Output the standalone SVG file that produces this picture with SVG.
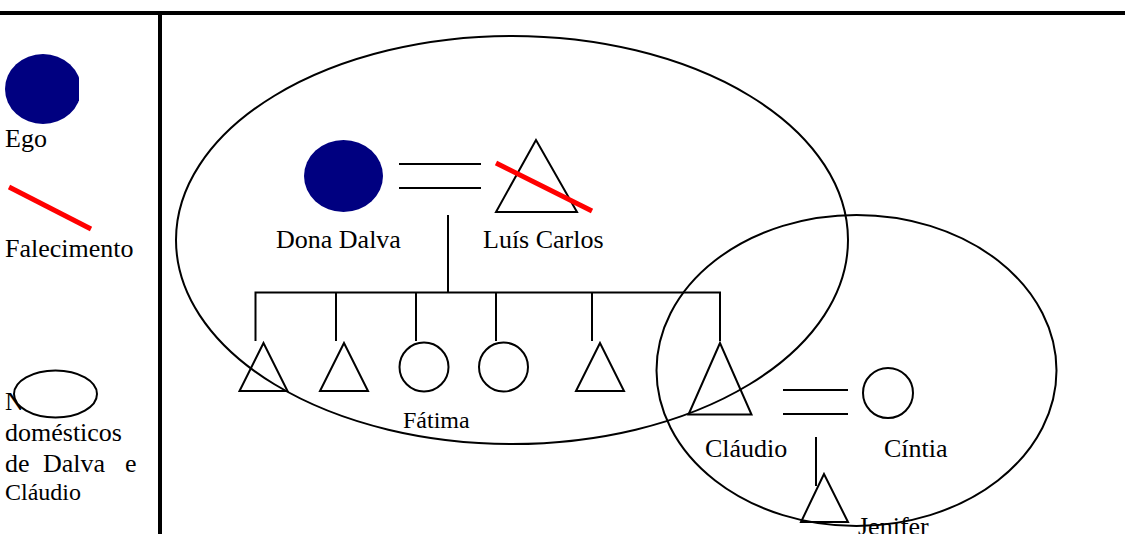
<svg xmlns="http://www.w3.org/2000/svg" width="1125" height="534" viewBox="0 0 1125 534">
<style>
.t{font-family:"Liberation Serif","Times New Roman",serif;font-size:26px;fill:#000}
.s{fill:none;stroke:#000;stroke-width:2}
.w{fill:#fff;stroke:#000;stroke-width:2}
.dead{stroke:#ff0000;stroke-width:5;fill:none}
.ego{fill:#000080}
</style>
<defs>
<clipPath id="egoclip"><rect x="0" y="40" width="79" height="84"/></clipPath>
</defs>
<rect width="1125" height="534" fill="#fff"/>
<g id="frame">
<line x1="0" y1="13" x2="1125" y2="13" stroke="#000" stroke-width="4"/>
<line x1="160" y1="11" x2="160" y2="534" stroke="#000" stroke-width="4"/>
</g>
<g id="legend">
<ellipse class="ego" cx="43" cy="89" rx="38" ry="35" clip-path="url(#egoclip)"/>
<text class="t" x="5" y="147">Ego</text>
<line class="dead" x1="9" y1="187" x2="91" y2="229"/>
<text class="t" x="5" y="257">Falecimento</text>
<text class="t" x="5" y="410">Núcleos</text>
<ellipse class="w" cx="55.5" cy="394" rx="41.5" ry="23.5"/>
<text class="t" x="5" y="441">domésticos</text>
<text class="t" y="472"><tspan x="5">de</tspan><tspan x="43">Dalva</tspan><tspan x="125">e</tspan></text>
<text class="t" x="5" y="500" style="font-size:24px">Cláudio</text>
</g>
<g id="nucleo-dalva"><ellipse class="s" cx="512" cy="240" rx="336" ry="204"/></g>
<g id="nucleo-claudio"><ellipse class="s" cx="856.5" cy="370.5" rx="200" ry="155.5"/></g>
<g id="connectors">
<line class="s" x1="399" y1="164" x2="481" y2="164"/>
<line class="s" x1="399" y1="188" x2="481" y2="188"/>
<line class="s" x1="448" y1="215" x2="448" y2="292"/>
<polyline class="s" points="255.5,341 255.5,292.5 720,292.5 720,341"/>
<line class="s" x1="336" y1="292" x2="336" y2="341"/>
<line class="s" x1="416" y1="292" x2="416" y2="341"/>
<line class="s" x1="496" y1="292" x2="496" y2="341"/>
<line class="s" x1="592" y1="292" x2="592" y2="341"/>
<line class="s" x1="783" y1="390" x2="848" y2="390"/>
<line class="s" x1="783" y1="414" x2="848" y2="414"/>
<line class="s" x1="816" y1="437" x2="816" y2="486"/>
</g>
<g id="dona-dalva">
<ellipse class="ego" cx="343.5" cy="176" rx="39.5" ry="36"/>
<text class="t" x="276" y="248">Dona Dalva</text>
</g>
<g id="luis-carlos">
<polygon class="s" points="536,140 496,212 577,212"/>
<line class="dead" x1="496" y1="163" x2="592" y2="211"/>
<text class="t" x="483" y="248">Luís Carlos</text>
</g>
<g id="filho1"><polygon class="s" points="263.5,343 239.5,391 287.5,391"/></g>
<g id="filho2"><polygon class="s" points="344,343 320,391 368,391"/></g>
<g id="fatima">
<circle class="s" cx="424" cy="367" r="24.5"/>
<text class="t" x="403" y="428" style="font-size:24px">Fátima</text>
</g>
<g id="filha4"><circle class="s" cx="503.5" cy="367" r="24.5"/></g>
<g id="filho5"><polygon class="s" points="600,343 576,391 624,391"/></g>
<g id="claudio">
<polygon class="s" points="720,343 688.5,414.5 751.5,414.5"/>
<text class="t" x="705" y="457">Cláudio</text>
</g>
<g id="cintia">
<circle class="s" cx="888" cy="393" r="25"/>
<text class="t" x="884" y="457">Cíntia</text>
</g>
<g id="jenifer">
<polygon class="s" points="824,474 801,522 848,522"/>
<text class="t" x="858" y="535">Jenifer</text>
</g>
</svg>
